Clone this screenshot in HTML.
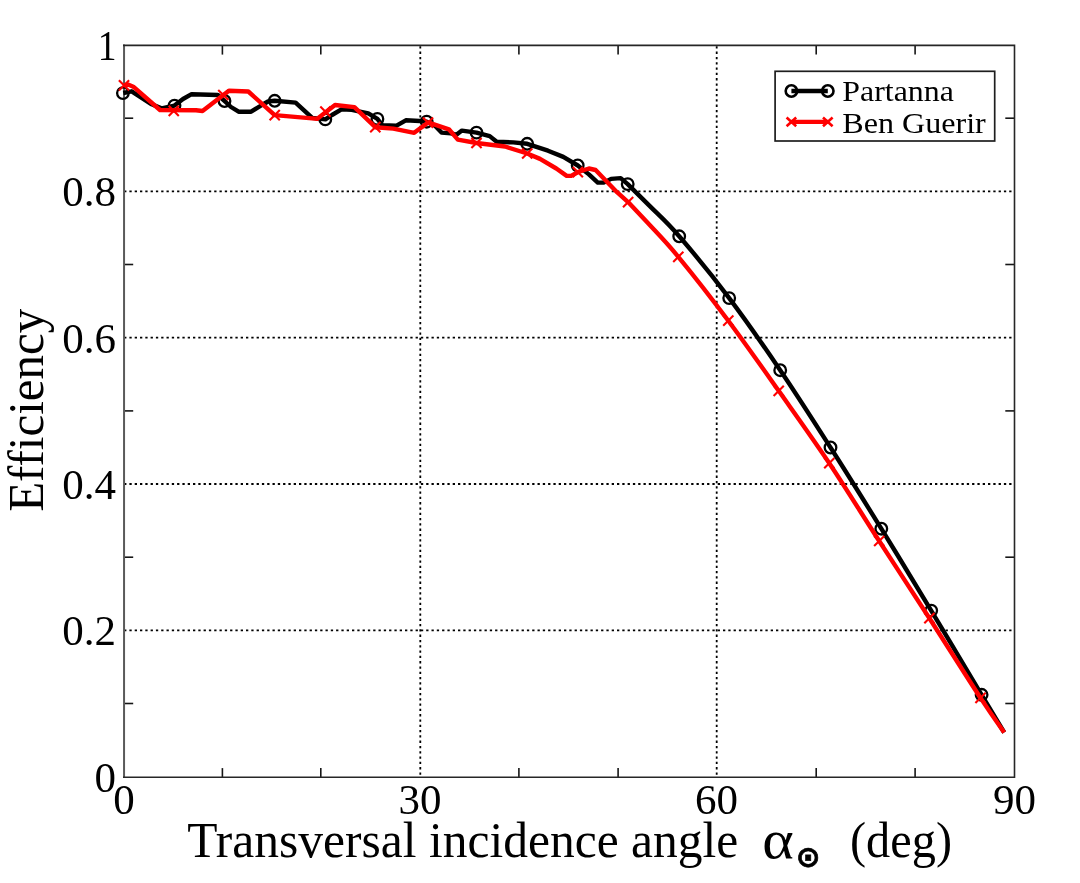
<!DOCTYPE html>
<html lang="en"><head><meta charset="utf-8"><title>Efficiency vs transversal incidence angle</title>
<style>html,body{margin:0;padding:0;background:#fff}body{width:1080px;height:883px;overflow:hidden}svg{display:block;will-change:transform}text{font-family:"Liberation Serif","DejaVu Serif",serif;fill:#000}</style></head><body>
<svg width="1080" height="883" viewBox="0 0 1080 883">
<rect x="0" y="0" width="1080" height="883" fill="#fff"/>
<g stroke="#000" stroke-width="1.8" stroke-dasharray="2.3 3" fill="none">
<line x1="420.3" y1="46.3" x2="420.3" y2="777.0"/>
<line x1="716.7" y1="46.3" x2="716.7" y2="777.0"/>
<line x1="124.1" y1="630.4" x2="1014.6" y2="630.4"/>
<line x1="124.1" y1="484.0" x2="1014.6" y2="484.0"/>
<line x1="124.1" y1="337.7" x2="1014.6" y2="337.7"/>
<line x1="124.1" y1="191.3" x2="1014.6" y2="191.3"/>
</g>
<g stroke="#161616" stroke-width="1.6" fill="none">
<line x1="222.4" y1="777.3" x2="222.4" y2="768.1"/>
<line x1="222.4" y1="45.4" x2="222.4" y2="54.6"/>
<line x1="320.8" y1="777.3" x2="320.8" y2="768.1"/>
<line x1="320.8" y1="45.4" x2="320.8" y2="54.6"/>
<line x1="518.9" y1="777.3" x2="518.9" y2="768.1"/>
<line x1="518.9" y1="45.4" x2="518.9" y2="54.6"/>
<line x1="618.1" y1="777.3" x2="618.1" y2="768.1"/>
<line x1="618.1" y1="45.4" x2="618.1" y2="54.6"/>
<line x1="816.2" y1="777.3" x2="816.2" y2="768.1"/>
<line x1="816.2" y1="45.4" x2="816.2" y2="54.6"/>
<line x1="915.1" y1="777.3" x2="915.1" y2="768.1"/>
<line x1="915.1" y1="45.4" x2="915.1" y2="54.6"/>
<line x1="124.0" y1="703.5" x2="133.2" y2="703.5"/>
<line x1="1014.5" y1="703.5" x2="1005.3" y2="703.5"/>
<line x1="124.0" y1="557.2" x2="133.2" y2="557.2"/>
<line x1="1014.5" y1="557.2" x2="1005.3" y2="557.2"/>
<line x1="124.0" y1="410.9" x2="133.2" y2="410.9"/>
<line x1="1014.5" y1="410.9" x2="1005.3" y2="410.9"/>
<line x1="124.0" y1="264.5" x2="133.2" y2="264.5"/>
<line x1="1014.5" y1="264.5" x2="1005.3" y2="264.5"/>
<line x1="124.0" y1="118.2" x2="133.2" y2="118.2"/>
<line x1="1014.5" y1="118.2" x2="1005.3" y2="118.2"/>
</g>
<line x1="124.05" y1="44.6" x2="124.05" y2="778.1" stroke="#5a5a5a" stroke-width="2"/>
<path d="M123.0 45.4H1014.5V777.3H123.0" fill="none" stroke="#262626" stroke-width="1.6" stroke-linejoin="miter"/>
<path d="M123.2 93.0 L131.7 91.3 L151.7 104.3 L161.5 108.4 L174.5 105.6 L183.0 99.0 L191.6 94.2 L217.8 95.0 L224.7 101.2 L231.0 107.0 L238.6 111.7 L251.1 111.7 L262.0 105.0 L268.0 101.5 L274.7 100.7 L295.6 102.6 L312.2 117.9 L325.4 119.4 L332.0 115.0 L341.9 109.2 L351.7 109.9 L368.3 113.3 L377.4 118.9 L382.2 125.1 L396.1 125.8 L405.8 120.3 L419.7 121.0 L426.7 121.7 L435.0 125.8 L441.5 132.6 L450.8 133.3 L456.4 134.7 L461.9 130.6 L476.5 132.6 L489.7 136.1 L496.7 141.7 L513.3 142.4 L527.2 143.8 L548.0 150.7 L563.3 156.9 L577.8 165.5 L588.9 174.4 L597.8 182.6 L603.7 182.6 L611.1 178.9 L620.7 178.1 L627.7 184.1 L649.6 205.9 C658.2 214.6 665.9 220.9 679.2 236.3 C692.5 251.7 712.4 275.8 729.2 298.1 C746.0 320.4 763.3 345.3 780.2 370.2 C797.1 395.1 813.6 421.1 830.5 447.5 C847.4 473.9 864.5 501.5 881.3 528.7 C898.1 555.9 914.5 582.9 931.2 610.6 C947.9 638.3 969.4 674.5 981.6 694.8 C993.8 715.1 1000.4 726.2 1004.2 732.5" fill="none" stroke="#000" stroke-width="4.4" stroke-linejoin="round" stroke-linecap="butt"/>
<g fill="none" stroke="#000" stroke-width="2.3">
<circle cx="122.9" cy="93.1" r="5.8"/>
<circle cx="174.5" cy="105.6" r="5.8"/>
<circle cx="224.5" cy="101.0" r="5.8"/>
<circle cx="274.7" cy="100.8" r="5.8"/>
<circle cx="325.3" cy="119.4" r="5.8"/>
<circle cx="377.4" cy="118.9" r="5.8"/>
<circle cx="426.7" cy="121.7" r="5.8"/>
<circle cx="476.5" cy="132.6" r="5.8"/>
<circle cx="527.2" cy="143.8" r="5.8"/>
<circle cx="577.7" cy="165.5" r="5.8"/>
<circle cx="627.7" cy="184.1" r="5.8"/>
<circle cx="679.2" cy="236.3" r="5.8"/>
<circle cx="729.2" cy="298.1" r="5.8"/>
<circle cx="780.2" cy="370.2" r="5.8"/>
<circle cx="830.5" cy="447.5" r="5.8"/>
<circle cx="881.3" cy="528.7" r="5.8"/>
<circle cx="931.2" cy="610.6" r="5.8"/>
<circle cx="981.6" cy="694.8" r="5.8"/>
</g>
<path d="M124.0 85.4 L128.0 84.5 L133.3 86.7 L160.0 110.0 L196.0 110.3 L202.5 111.0 L228.9 90.8 L248.3 91.5 L274.7 115.1 L315.0 118.6 L317.0 118.9 L335.0 105.0 L354.4 107.1 L375.3 127.2 L393.3 128.6 L414.2 132.8 L428.1 122.4 L448.9 129.3 L457.8 139.6 L476.5 143.0 L505.0 146.5 L527.2 153.5 L540.0 158.9 L556.3 168.5 L566.7 175.9 L571.1 175.9 L577.8 172.2 L588.9 168.5 L595.6 170.0 L617.0 192.2 L628.1 202.1 L648.1 223.3 C656.5 232.4 664.9 240.6 678.3 256.8 C691.7 273.0 711.6 298.4 728.3 320.7 C745.0 343.0 761.9 367.1 778.7 390.8 C795.5 414.6 812.5 438.2 829.3 463.2 C846.0 488.2 862.5 515.2 879.2 541.0 C895.9 566.8 912.5 592.1 929.4 618.2 C946.3 644.4 968.0 678.9 980.5 697.9 C993.0 716.9 1000.2 726.7 1004.2 732.5" fill="none" stroke="#f00" stroke-width="4.4" stroke-linejoin="round" stroke-linecap="butt"/>
<g fill="none" stroke="#f00" stroke-width="2.1">
<path d="M118.9 80.3L129.1 90.5M118.9 90.5L129.1 80.3"/>
<path d="M168.7 105.7L178.8 115.9M168.7 115.9L178.8 105.7"/>
<path d="M218.2 89.9L228.4 100.1M218.2 100.1L228.4 89.9"/>
<path d="M269.6 110.0L279.8 120.2M269.6 120.2L279.8 110.0"/>
<path d="M320.3 106.6L330.5 116.8M320.3 116.8L330.5 106.6"/>
<path d="M370.2 122.1L380.4 132.3M370.2 132.3L380.4 122.1"/>
<path d="M422.9 117.6L433.1 127.8M422.9 127.8L433.1 117.6"/>
<path d="M471.4 137.9L481.6 148.1M471.4 148.1L481.6 137.9"/>
<path d="M522.1 148.4L532.3 158.6M522.1 158.6L532.3 148.4"/>
<path d="M572.7 167.1L582.9 177.3M572.7 177.3L582.9 167.1"/>
<path d="M623.0 197.0L633.2 207.2M623.0 207.2L633.2 197.0"/>
<path d="M673.2 251.7L683.4 261.9M673.2 261.9L683.4 251.7"/>
<path d="M723.2 315.6L733.4 325.8M723.2 325.8L733.4 315.6"/>
<path d="M773.6 385.7L783.8 395.9M773.6 395.9L783.8 385.7"/>
<path d="M824.2 458.1L834.4 468.3M824.2 468.3L834.4 458.1"/>
<path d="M874.1 535.9L884.3 546.1M874.1 546.1L884.3 535.9"/>
<path d="M924.3 613.1L934.5 623.3M924.3 623.3L934.5 613.1"/>
<path d="M975.4 692.8L985.6 703.0M975.4 703.0L985.6 692.8"/>
</g>
<g font-size="43">
<text x="116" y="791.6" text-anchor="end">0</text>
<text x="116" y="645.3" text-anchor="end">0.2</text>
<text x="116" y="498.9" text-anchor="end">0.4</text>
<text x="116" y="352.6" text-anchor="end">0.6</text>
<text x="116" y="206.2" text-anchor="end">0.8</text>
<text x="97.8" y="59.9" textLength="18.8" lengthAdjust="spacingAndGlyphs">1</text>
<text x="123.9" y="814" text-anchor="middle">0</text>
<text x="420.1" y="814" text-anchor="middle">30</text>
<text x="716.5" y="814" text-anchor="middle">60</text>
<text x="1014.4" y="814" text-anchor="middle">90</text>
</g>
<text transform="translate(43.2 511.8) rotate(-90)" font-size="50.6" textLength="203" lengthAdjust="spacingAndGlyphs">Efficiency</text>
<text font-size="50.2"><tspan x="187.3" y="857.2" textLength="551" lengthAdjust="spacingAndGlyphs">Transversal incidence angle</tspan><tspan x="762.3" y="857.8" font-size="55" textLength="31.5" lengthAdjust="spacingAndGlyphs">α</tspan><tspan x="808.2" y="867" font-size="29.5" text-anchor="middle" font-weight="bold" stroke="#000" stroke-width="0.7" style="font-family:'DejaVu Sans',sans-serif">⊙</tspan><tspan x="850" y="857.2" textLength="102" lengthAdjust="spacingAndGlyphs">(deg)</tspan></text>
<rect x="775.1" y="71.3" width="219.6" height="69.7" fill="#fff" stroke="#1e1e1e" stroke-width="1.7"/>
<line x1="791.4" y1="91" x2="827.8" y2="91" stroke="#000" stroke-width="4.4"/>
<g fill="none" stroke="#000" stroke-width="2.6"><circle cx="791.4" cy="91" r="5.7"/><circle cx="827.8" cy="91" r="5.7"/></g>
<line x1="791.4" y1="121.9" x2="827.8" y2="121.9" stroke="#f00" stroke-width="4.4"/>
<g fill="none" stroke="#f00" stroke-width="2.6">
<path d="M786.6 117.5L796.2 126.3M786.6 126.3L796.2 117.5"/>
<path d="M823.0 117.5L832.6 126.3M823.0 126.3L832.6 117.5"/>
</g>
<text x="842.3" y="100.5" font-size="30" textLength="111.5" lengthAdjust="spacingAndGlyphs">Partanna</text>
<text x="842.3" y="132.7" font-size="30" textLength="143.5" lengthAdjust="spacingAndGlyphs">Ben Guerir</text>
</svg></body></html>
